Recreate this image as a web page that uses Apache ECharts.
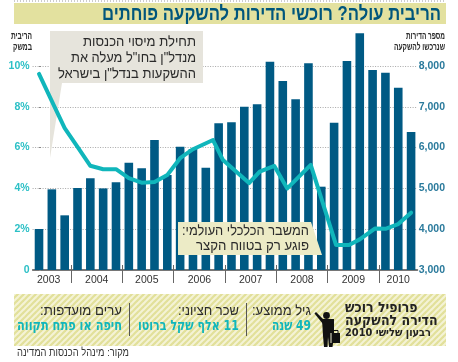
<!DOCTYPE html>
<html dir="rtl" lang="he">
<head>
<meta charset="utf-8">
<style>html,body{margin:0;padding:0;background:#fff}#c{width:458px;height:362px;position:absolute;left:0;top:0}</style>
<script src="https://cdn.jsdelivr.net/npm/echarts@6/dist/echarts.min.js"></script>
</head>
<body>
<div id="c"></div>
<script>
const quarters = ['03Q2','03Q3','03Q4','04Q1','04Q2','04Q3','04Q4','05Q1','05Q2','05Q3','05Q4','06Q1','06Q2','06Q3','06Q4','07Q1','07Q2','07Q3','07Q4','08Q1','08Q2','08Q3','08Q4','09Q1','09Q2','09Q3','09Q4','10Q1','10Q2','10Q3'];
const apartments = [4005,4977,4340,5010,5247,5000,5149,5629,5491,6185,5327,6021,5965,5507,6595,6620,7002,7060,8105,7632,7184,8066,5042,6610,8123,8800,7902,7836,7468,6382];
const rateTime = [0,1,2,3,4,5,6,7,8,9,10,11,12,13.56,14.34,16.37,17.2,18.34,19.35,21.18,23.15,24.16,25,26.2,27,28,29];
const rateValues = [9.61,8.28,6.95,6.03,5.11,4.94,4.94,4.5,4.28,4.31,4.66,5.48,5.92,6.37,5.39,4.26,4.82,5.1,4,5.15,1.23,1.23,1.5,2.04,2.02,2.25,2.81];
const years = ['2003','2004','2005','2006','2007','2008','2009','2010'];
const yearCentres = [0.75,4.5,8.4,12.5,16.5,20.5,24.5,28];
const yearDividers = [2.5,6.5,10.5,14.5,18.5,22.5,26.5];
const rateTicks = [0,2,4,6,8,10];
const apartmentTicks = [3000,4000,5000,6000,7000,8000];

const DARK='#005a84', TEAL='#10b6bb', TEXT='#2b2b2b';
const SANS='"Liberation Sans","DejaVu Sans",sans-serif';
const HEAVY='"DejaVu Sans",sans-serif';

const meas=document.createElement('canvas');
meas.dir='rtl';
document.body.appendChild(meas); meas.style.display='none';
const mctx=meas.getContext('2d');
function stripes(){
  const s=6, c=document.createElement('canvas'); c.width=s; c.height=s;
  const g=c.getContext('2d'); g.fillStyle='#f4f3d6'; g.fillRect(0,0,s,s);
  g.strokeStyle='#e2e09a'; g.lineWidth=2.2;
  [[-1,1,1,-1],[-1,s+1,s+1,-1],[s-1,s+1,s+1,s-1]].forEach(p=>{g.beginPath();g.moveTo(p[0],p[1]);g.lineTo(p[2],p[3]);g.stroke();});
  return {image:c,repeat:'repeat'};
}
// text fitted to the width it has in the reference
function T(text,x,y,font,fill,align,width){
  mctx.font=font;
  const w=mctx.measureText(text).width;
  return {type:'text',z:6,x:x,y:y,scaleX:width?width/w:1,
    style:{text,x:0,y:0,font,fill:fill||TEXT,textAlign:align||'right',textVerticalAlign:'middle'}};
}
function R(x,y,w,h,fill,z){return {type:'rect',z:z||1,shape:{x,y,width:w,height:h},style:{fill}};}
function P(points,fill,z){return {type:'polygon',z:z||1,shape:{points},style:{fill}};}

const graphics=[
  {type:'line',z:1,shape:{x1:14,y1:1,x2:446,y2:1},style:{stroke:'#999',lineWidth:1,lineDash:[1,2]}},
  R(14,3,432,21,'#e3e19f'),
  T('הריבית עולה? רוכשי הדירות להשקעה פוחתים',441,14,'bold 20px '+SANS,'#00567c','right',339),
  T('הריבית',32,36,'bold 10px '+SANS,TEXT,'right',21),
  T('במשק',32,47,'bold 10px '+SANS,TEXT,'right',19),
  T('מספר הדירות',445,36,'bold 10px '+SANS,TEXT,'right',39),
  T('שנרכשו להשקעה',445,47,'bold 10px '+SANS,TEXT,'right',51),
  P([[50,31],[203,31],[203,83],[62,83],[50,158]],'#e6e4dc',1),
  T('תחילת מיסוי הכנסות',196,42,'14px '+SANS,TEXT,'right',113),
  T('מנדל"ן בחו"ל מעלה את',196,58,'14px '+SANS,TEXT,'right',125),
  T('ההשקעות בנדל"ן בישראל',196,74,'14px '+SANS,TEXT,'right',138),
  P([[178,222],[311,222],[322,255],[178,255]],'#ecebc6',5),
  T('המשבר הכלכלי העולמי:',309,231,'14px '+SANS,TEXT,'right',127),
  T('פוגע רק בטווח הקצר',309,246,'14px '+SANS,TEXT,'right',113),
  {type:'rect',z:1,shape:{x:14,y:294,width:432,height:52},style:{fill:stripes()}},
  {type:'line',z:6,shape:{x1:246.5,y1:303,x2:246.5,y2:336},style:{stroke:'#555',lineWidth:1}},
  {type:'line',z:6,shape:{x1:129.5,y1:303,x2:129.5,y2:336},style:{stroke:'#555',lineWidth:1}},
  T('פרופיל רוכש',345,308,'bold 14px '+HEAVY,'#222','left',72.6),
  T('הדירה להשקעה',345,321,'bold 14px '+HEAVY,'#222','left',92.6),
  T('רבעון שלישי 2010',345,333,'bold 11px '+HEAVY,'#222','left',86),
  T('גיל ממוצע:',311,311,'14px '+SANS,TEXT,'right',59),
  T('49 שנה',311,326,'bold 14px '+HEAVY,TEAL,'right',39),
  T('שכר חציוני:',239,311,'14px '+SANS,TEXT,'right',61),
  T('11 אלף שקל ברוטו',239,326,'bold 14px '+HEAVY,TEAL,'right',101),
  T('ערים מועדפות:',122,311,'14px '+SANS,TEXT,'right',82),
  T('חיפה או פתח תקווה',122,326,'bold 14px '+HEAVY,TEAL,'right',105),
  T('מקור: מינהל הכנסות המדינה',129,353,'11px '+SANS,'#333','right',112),
  // figure with briefcase
  {type:'circle',z:6,shape:{cx:326.5,cy:315.5,r:3.4},style:{fill:'#111'}},
  P([[322,319],[334,319],[334,336],[332.5,347],[329,347],[328,337],[327.5,347],[324,347],[323,336]],'#111',6),
  P([[314.5,313.5],[316,312],[323,319],[323,324]],'#111',6),
  R(331,333,9,10,'#111',6),
  {type:'rect',z:6,shape:{x:333,y:330.5,width:5,height:3},style:{fill:'none',stroke:'#111',lineWidth:1}},
  {type:'line',z:6,shape:{x1:331,y1:333,x2:331,y2:343},style:{stroke:'#f4f3d6',lineWidth:1}}
];

const chart=echarts.init(document.getElementById('c'),null,{renderer:'canvas'});
chart.setOption({
  animation:false,
  backgroundColor:'#fff',
  grid:{left:32.6,top:25.2,width:384.9,height:244.8,containLabel:false},
  graphic:{elements:graphics},
  xAxis:[
    {type:'category',data:quarters,position:'bottom',
     axisLine:{show:true,lineStyle:{color:'#4a4a4a',width:1.5}},axisTick:{show:false},axisLabel:{show:false}},
    {type:'value',min:-0.5,max:29.5,position:'bottom',splitLine:{show:false},axisLine:{show:false},
     axisTick:{show:true,customValues:yearDividers,length:13,lineStyle:{color:'#666',width:1}},
     axisLabel:{show:true,customValues:yearCentres,margin:5,color:'#333',fontSize:10.5,fontFamily:SANS,
       formatter:v=>years[yearCentres.indexOf(v)]||''}},
    {type:'value',min:-0.5,max:29.5,position:'bottom',splitLine:{show:false},axisLine:{show:false},axisLabel:{show:false},
     axisTick:{show:true,inside:true,customValues:yearDividers,length:5,lineStyle:{color:'#666',width:1}}}
  ],
  yAxis:[
    {type:'value',min:0,max:12,interval:2,position:'left',axisLine:{show:false},axisTick:{show:false},
     splitLine:{show:true,showMaxLine:false,showMinLine:false,lineStyle:{color:'#a8a8a8',width:1,type:[1,1.5]}},
     axisLabel:{customValues:rateTicks,margin:3,color:'#2cc0c6',fontSize:10.5,fontFamily:SANS,fontWeight:'bold',formatter:v=>v===0?'0':v+'%'}},
    {type:'value',min:3000,max:9000,interval:1000,position:'right',axisLine:{show:false},
     axisTick:{show:true,customValues:apartmentTicks,length:2,lineStyle:{color:'#888'}},splitLine:{show:false},
     axisLabel:{customValues:apartmentTicks,align:'right',margin:27.5,color:'#2a7a9c',fontSize:10.5,fontFamily:SANS,fontWeight:'bold',
       formatter:v=>String(v).replace(/(\d)(\d{3})$/,'$1,$2')}}
  ],
  series:[
    {type:'bar',xAxisIndex:0,yAxisIndex:1,data:apartments,barCategoryGap:'33%',z:2,itemStyle:{color:DARK}},
    {type:'line',xAxisIndex:1,yAxisIndex:0,data:rateTime.map((t,i)=>[t,rateValues[i]]),showSymbol:false,z:3,
     lineStyle:{color:TEAL,width:4,cap:'round',join:'round'}}
  ]
});
</script>
</body>
</html>
